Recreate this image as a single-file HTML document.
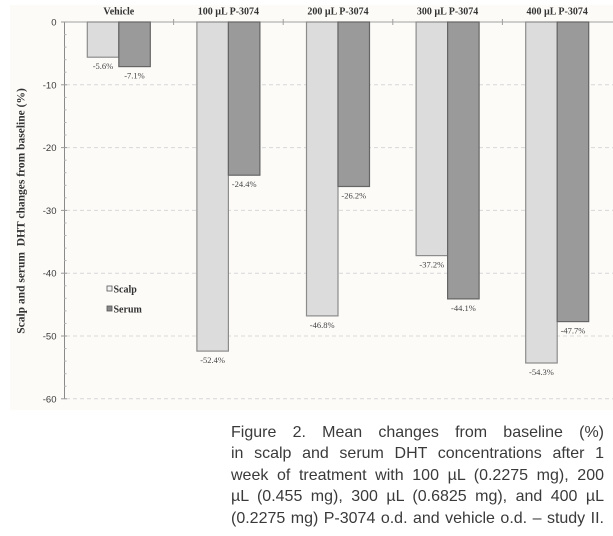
<!DOCTYPE html>
<html>
<head>
<meta charset="utf-8">
<style>
  html,body{margin:0;padding:0;background:#ffffff;}
  body{width:613px;height:536px;position:relative;overflow:hidden;}
  svg{position:absolute;left:0;top:0;}
  .cap{position:absolute;left:231px;top:422px;width:373px;font-family:"Liberation Sans",Arial,sans-serif;font-size:16px;color:#3a3a3a;}
  .cap div{height:21.4px;line-height:21.4px;white-space:nowrap;text-align:justify;text-align-last:justify;}
</style>
</head>
<body>
<svg width="613" height="536" viewBox="0 0 613 536" xmlns="http://www.w3.org/2000/svg">
  <rect x="10" y="5" width="603" height="405" fill="#fcfbf8"/>
  <!-- gridlines -->
  <g stroke="#d8d8d8" stroke-width="1" stroke-dasharray="4,3">
    <line x1="66" y1="84.8" x2="613" y2="84.8"/>
    <line x1="66" y1="147.6" x2="613" y2="147.6"/>
    <line x1="66" y1="210.4" x2="613" y2="210.4"/>
    <line x1="66" y1="273.2" x2="613" y2="273.2"/>
    <line x1="66" y1="336" x2="613" y2="336"/>
    <line x1="66" y1="398.8" x2="613" y2="398.8"/>
  </g>
  <!-- top axis line -->
  <line x1="64" y1="22" x2="613" y2="22" stroke="#a0a0a0" stroke-width="1"/>
  <g stroke="#a0a0a0" stroke-width="1">
    <line x1="173.6" y1="19" x2="173.6" y2="25"/>
    <line x1="283.2" y1="19" x2="283.2" y2="25"/>
    <line x1="392.8" y1="19" x2="392.8" y2="25"/>
    <line x1="502.4" y1="19" x2="502.4" y2="25"/>
  </g>
  <!-- y axis -->
  <line x1="64.5" y1="22" x2="64.5" y2="399" stroke="#8a8a8a" stroke-width="1"/>
  <g stroke="#9a9a9a" stroke-width="1">
    <line x1="61" y1="22" x2="67" y2="22"/>
    <line x1="61" y1="84.8" x2="67" y2="84.8"/>
    <line x1="61" y1="147.6" x2="67" y2="147.6"/>
    <line x1="61" y1="210.4" x2="67" y2="210.4"/>
    <line x1="61" y1="273.2" x2="67" y2="273.2"/>
    <line x1="61" y1="336" x2="67" y2="336"/>
    <line x1="61" y1="398.8" x2="67" y2="398.8"/>
  </g>
  <g stroke="#b0b0b0" stroke-width="1">
    <line x1="64" y1="34.6" x2="66.5" y2="34.6"/><line x1="64" y1="47.1" x2="66.5" y2="47.1"/><line x1="64" y1="59.7" x2="66.5" y2="59.7"/><line x1="64" y1="72.2" x2="66.5" y2="72.2"/>
    <line x1="64" y1="97.4" x2="66.5" y2="97.4"/><line x1="64" y1="109.9" x2="66.5" y2="109.9"/><line x1="64" y1="122.5" x2="66.5" y2="122.5"/><line x1="64" y1="135" x2="66.5" y2="135"/>
    <line x1="64" y1="160.2" x2="66.5" y2="160.2"/><line x1="64" y1="172.7" x2="66.5" y2="172.7"/><line x1="64" y1="185.3" x2="66.5" y2="185.3"/><line x1="64" y1="197.8" x2="66.5" y2="197.8"/>
    <line x1="64" y1="223" x2="66.5" y2="223"/><line x1="64" y1="235.5" x2="66.5" y2="235.5"/><line x1="64" y1="248.1" x2="66.5" y2="248.1"/><line x1="64" y1="260.6" x2="66.5" y2="260.6"/>
    <line x1="64" y1="285.8" x2="66.5" y2="285.8"/><line x1="64" y1="298.3" x2="66.5" y2="298.3"/><line x1="64" y1="310.9" x2="66.5" y2="310.9"/><line x1="64" y1="323.4" x2="66.5" y2="323.4"/>
    <line x1="64" y1="348.6" x2="66.5" y2="348.6"/><line x1="64" y1="361.1" x2="66.5" y2="361.1"/><line x1="64" y1="373.7" x2="66.5" y2="373.7"/><line x1="64" y1="386.2" x2="66.5" y2="386.2"/>
  </g>
  <!-- y tick labels -->
  <g font-family="Liberation Sans, Arial, sans-serif" font-size="9.5" fill="#3a3a3a" text-anchor="end">
    <text x="56.5" y="25.5">0</text>
    <text x="56.5" y="88.3">-10</text>
    <text x="56.5" y="151.1">-20</text>
    <text x="56.5" y="213.9">-30</text>
    <text x="56.5" y="276.7">-40</text>
    <text x="56.5" y="339.5">-50</text>
    <text x="56.5" y="402.3">-60</text>
  </g>
  <!-- y axis title -->
  <text transform="translate(24.5,211) rotate(-90)" text-anchor="middle" font-family="Liberation Serif, Times New Roman, serif" font-weight="bold" font-size="11.5" fill="#333" xml:space="preserve">Scalp and serum  DHT changes from baseline (%)</text>
  <!-- category labels -->
  <g font-family="Liberation Serif, Times New Roman, serif" font-weight="bold" font-size="10" fill="#333" text-anchor="middle">
    <text x="118.8" y="14.5">Vehicle</text>
    <text x="228.4" y="14.5">100 µL P-3074</text>
    <text x="338" y="14.5">200 µL P-3074</text>
    <text x="447.6" y="14.5">300 µL P-3074</text>
    <text x="557.2" y="14.5">400 µL P-3074</text>
  </g>
  <!-- bars scalp -->
  <g fill="#dcdcdc" stroke="#8c8c8c" stroke-width="1.2">
    <rect x="87.3" y="22" width="31.5" height="35.2"/>
    <rect x="196.9" y="22" width="31.5" height="329.1"/>
    <rect x="306.5" y="22" width="31.5" height="293.9"/>
    <rect x="416.1" y="22" width="31.5" height="233.6"/>
    <rect x="525.7" y="22" width="31.5" height="341"/>
  </g>
  <!-- bars serum -->
  <g fill="#9a9a9a" stroke="#656565" stroke-width="1.2">
    <rect x="118.8" y="22" width="31.5" height="44.6"/>
    <rect x="228.4" y="22" width="31.5" height="153.2"/>
    <rect x="338" y="22" width="31.5" height="164.5"/>
    <rect x="447.6" y="22" width="31.5" height="276.9"/>
    <rect x="557.2" y="22" width="31.5" height="299.6"/>
  </g>
  <!-- value labels -->
  <g font-family="Liberation Serif, Times New Roman, serif" font-size="8.5" fill="#444" text-anchor="middle">
    <text x="103" y="69.2">-5.6%</text>
    <text x="134.5" y="78.6">-7.1%</text>
    <text x="212.6" y="363.1">-52.4%</text>
    <text x="244.2" y="187.2">-24.4%</text>
    <text x="322.2" y="327.9">-46.8%</text>
    <text x="353.8" y="198.5">-26.2%</text>
    <text x="431.8" y="267.6">-37.2%</text>
    <text x="463.4" y="310.9">-44.1%</text>
    <text x="541.4" y="375">-54.3%</text>
    <text x="573" y="333.6">-47.7%</text>
  </g>
  <!-- legend -->
  <rect x="107" y="286" width="5" height="5" fill="#f2f2f2" stroke="#555" stroke-width="0.8"/>
  <rect x="107" y="306" width="5" height="5" fill="#888" stroke="#555" stroke-width="0.8"/>
  <g font-family="Liberation Serif, Times New Roman, serif" font-weight="bold" font-size="10" fill="#333">
    <text x="113.5" y="292.5">Scalp</text>
    <text x="113.5" y="312.5">Serum</text>
  </g>
</svg>
<div class="cap">
  <div>Figure 2. Mean changes from baseline (%)</div>
  <div>in scalp and serum DHT concentrations after 1</div>
  <div>week of treatment with 100 µL (0.2275 mg), 200</div>
  <div>µL (0.455 mg), 300 µL (0.6825 mg), and 400 µL</div>
  <div>(0.2275 mg) P-3074 o.d. and vehicle o.d. – study II.</div>
</div>
</body>
</html>
